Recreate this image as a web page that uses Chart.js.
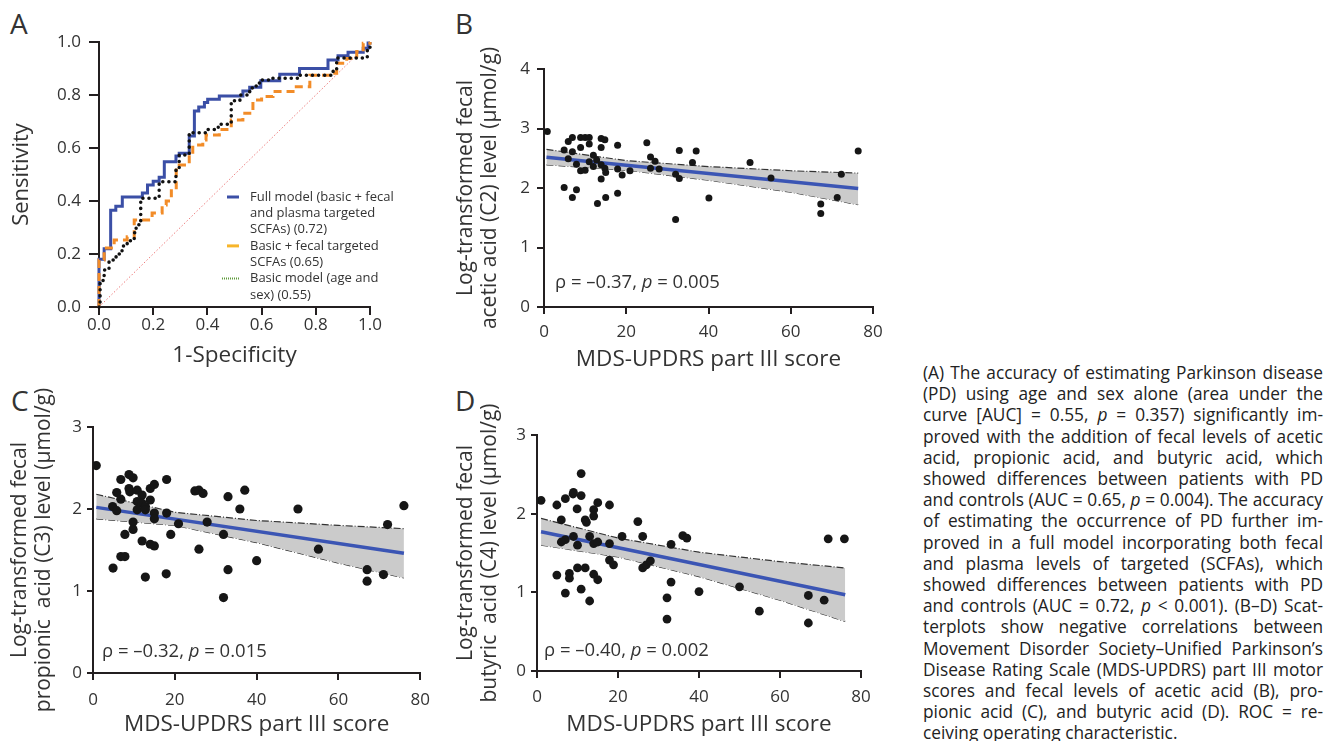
<!DOCTYPE html>
<html>
<head>
<meta charset="utf-8">
<script src="https://cdn.jsdelivr.net/npm/chart.js@4.4.0/dist/chart.umd.min.js"></script>
<style>
body { margin: 0; background: #fff; width: 1338px; height: 741px; overflow: hidden; position: relative; font-family: "Open Sans", sans-serif; color: #333; }
.panel { position: absolute; }
.letter { position: absolute; font-size: 28px; line-height: 28px; color: #333; }
#caption { position: absolute; left: 923px; top: 362px; width: 400px; font-size: 17.3px; line-height: 21.2px; color: #222; }
#caption div { text-align: justify; text-align-last: justify; }
#caption div.last { text-align-last: left; }
</style>
</head>
<body>
<div class="letter" style="left:10px;top:9px">A</div>
<div class="letter" style="left:455px;top:9px">B</div>
<div class="letter" style="left:11px;top:386px">C</div>
<div class="letter" style="left:455px;top:386px">D</div>

<canvas id="rocChart" class="panel" style="left:0;top:0" width="440" height="380"></canvas>
<canvas id="aceticChart" class="panel" style="left:440px;top:0" width="470" height="380"></canvas>
<canvas id="propionicChart" class="panel" style="left:0;top:370px" width="440" height="371"></canvas>
<canvas id="butyricChart" class="panel" style="left:440px;top:370px" width="470" height="371"></canvas>

<div id="caption"></div>

<script>
// ROC curves (panel A): false positive rate / sensitivity at each step
const fullFpr = [0, 0, 0.019, 0.043, 0.062, 0.086, 0.16, 0.179, 0.2, 0.222, 0.241, 0.284, 0.296, 0.333, 0.352, 0.368, 0.389, 0.401, 0.444, 0.531, 0.556, 0.597, 0.667, 0.74, 0.845, 0.882, 0.919, 0.975, 0.993, 1];
const fullTpr = [0, 0.18, 0.22, 0.365, 0.38, 0.415, 0.43, 0.46, 0.475, 0.49, 0.548, 0.57, 0.58, 0.645, 0.74, 0.755, 0.772, 0.784, 0.796, 0.815, 0.829, 0.854, 0.878, 0.9, 0.932, 0.948, 0.961, 0.976, 0.996, 1];
const fecalFpr = [0, 0, 0.019, 0.056, 0.104, 0.13, 0.196, 0.233, 0.248, 0.267, 0.285, 0.296, 0.333, 0.346, 0.383, 0.395, 0.444, 0.488, 0.531, 0.568, 0.6, 0.642, 0.716, 0.778, 0.864, 0.877, 0.914, 0.951, 0.975, 1];
const fecalTpr = [0, 0.177, 0.223, 0.253, 0.265, 0.328, 0.355, 0.385, 0.40, 0.45, 0.517, 0.536, 0.567, 0.611, 0.63, 0.649, 0.67, 0.706, 0.731, 0.781, 0.794, 0.813, 0.831, 0.875, 0.882, 0.92, 0.938, 0.964, 0.995, 1];
const basicFpr = [0, 0.004, 0.019, 0.037, 0.063, 0.085, 0.104, 0.13, 0.137, 0.154, 0.222, 0.284, 0.296, 0.333, 0.4, 0.44, 0.488, 0.52, 0.556, 0.58, 0.6, 0.64, 0.74, 0.864, 0.877, 0.99, 1];
const basicTpr = [0, 0.10, 0.14, 0.177, 0.2, 0.23, 0.25, 0.28, 0.31, 0.41, 0.473, 0.52, 0.574, 0.658, 0.67, 0.69, 0.778, 0.80, 0.826, 0.845, 0.857, 0.863, 0.875, 0.895, 0.94, 0.977, 1];

// panel B: acetic acid vs MDS-UPDRS III
const bScore = [0.8, 4.9, 5.9, 6.9, 5.9, 6.9, 4.9, 7.9, 6.9, 7.9, 8.9, 10.0, 11.0, 8.9, 11.0, 8.9, 10.0, 11.0, 12.0, 12.0, 12.8, 13.0, 13.9, 14.8, 13.9, 13.9, 14.8, 15.0, 13.9, 15.0, 17.9, 17.9, 19.0, 17.9, 20.9, 25.0, 25.9, 27.0, 25.9, 28.0, 32.0, 32.9, 32.9, 32.0, 36.1, 37.0, 40.1, 50.1, 55.2, 67.3, 67.3, 71.3, 72.3, 76.4];
const bAcetic = [2.95, 2.64, 2.78, 2.85, 2.49, 2.61, 2.01, 1.97, 1.84, 2.40, 2.85, 2.85, 2.85, 2.68, 2.74, 2.29, 2.30, 2.44, 2.55, 2.36, 2.47, 1.74, 2.83, 2.81, 2.68, 2.39, 2.33, 2.26, 2.15, 1.84, 2.72, 2.32, 2.22, 1.91, 2.29, 2.76, 2.52, 2.45, 2.33, 2.32, 2.23, 2.16, 2.63, 1.47, 2.43, 2.62, 1.83, 2.43, 2.17, 1.73, 1.57, 1.84, 2.23, 2.62];
const bFitX = [0.6, 76.4];
const bFitY = [2.515, 1.99];
const bBandX = [0.6, 20, 40, 60, 76.4];
const bBandUp = [2.65, 2.46, 2.36, 2.29, 2.25];
const bBandLo = [2.39, 2.30, 2.13, 1.93, 1.72];

// panel C: propionic acid
const cScore = [0.8, 4.8, 5.8, 4.9, 5.8, 6.8, 6.8, 8.8, 9.8, 8.8, 9.0, 10.8, 12.0, 14.0, 15.0, 10.8, 12.0, 10.8, 12.8, 14.0, 12.8, 15.0, 15.0, 9.8, 9.8, 7.8, 6.8, 7.8, 12.0, 14.0, 15.0, 12.8, 18.0, 18.0, 19.0, 17.9, 20.9, 24.9, 25.9, 26.9, 27.9, 25.9, 31.9, 33.0, 33.0, 31.9, 35.9, 37.1, 40.0, 50.1, 55.1, 67.0, 67.0, 71.0, 72.0, 76.0];
const cPropionic = [2.53, 2.03, 1.98, 1.28, 2.20, 2.12, 2.36, 2.42, 2.38, 2.25, 2.21, 2.23, 2.17, 2.25, 2.30, 2.09, 2.07, 1.99, 2.03, 2.11, 1.99, 1.95, 1.88, 1.84, 1.75, 1.69, 1.42, 1.42, 1.61, 1.57, 1.55, 1.17, 2.36, 1.95, 1.69, 1.21, 1.82, 2.22, 2.23, 2.19, 1.84, 1.51, 1.69, 2.15, 1.26, 0.92, 2.00, 2.23, 1.37, 2.00, 1.51, 1.26, 1.12, 1.20, 1.81, 2.04];
const cFitX = [0.8, 76];
const cFitY = [2.02, 1.46];
const cBandX = [0.8, 20, 40, 60, 76];
const cBandUp = [2.18, 1.96, 1.86, 1.80, 1.76];
const cBandLo = [1.88, 1.80, 1.59, 1.34, 1.16];

// panel D: butyric acid
const dScore = [1.0, 4.9, 7.0, 9.0, 10.9, 10.9, 9.9, 8.9, 14.0, 15.0, 17.9, 14.0, 11.9, 12.2, 6.0, 21.0, 24.9, 26.1, 9.0, 7.0, 6.0, 10.0, 13.0, 14.0, 15.0, 17.9, 17.9, 18.9, 10.0, 11.9, 8.0, 8.0, 4.9, 14.0, 15.0, 7.0, 10.9, 13.0, 26.1, 27.0, 28.0, 33.1, 36.0, 37.0, 33.1, 32.1, 32.1, 40.0, 50.0, 54.9, 67.0, 67.0, 70.9, 71.9, 75.9];
const dButyric = [2.17, 2.11, 2.19, 2.27, 2.23, 2.51, 2.06, 2.25, 2.05, 2.14, 2.11, 1.97, 1.92, 1.89, 1.92, 1.71, 1.90, 1.71, 1.71, 1.67, 1.64, 1.60, 1.71, 1.62, 1.64, 1.62, 1.41, 1.35, 1.31, 1.31, 1.24, 1.18, 1.22, 1.23, 1.16, 0.99, 1.04, 0.89, 1.31, 1.35, 1.40, 1.61, 1.72, 1.69, 1.13, 0.93, 0.66, 1.01, 1.07, 0.76, 0.96, 0.61, 0.90, 1.68, 1.68];
const dFitX = [1.0, 76.1];
const dFitY = [1.77, 0.97];
const dBandX = [1.0, 20, 40, 60, 76.1];
const dBandUp = [1.94, 1.69, 1.51, 1.39, 1.31];
const dBandLo = [1.60, 1.45, 1.20, 0.90, 0.63];

const rhoValues = ['\u20130.37', '\u20130.32', '\u20130.40'];
const pValues = ['0.005', '0.015', '0.002'];

const FONT = 'Open Sans';
const INK = '#231f20';

const captionLines = [
    '(A) The accuracy of estimating Parkinson disease',
    '(PD) using age and sex alone (area under the',
    'curve [AUC] = 0.55, <i>p</i> = 0.357) significantly im-',
    'proved with the addition of fecal levels of acetic',
    'acid, propionic acid, and butyric acid, which',
    'showed differences between patients with PD',
    'and controls (AUC = 0.65, <i>p</i> = 0.004). The accuracy',
    'of estimating the occurrence of PD further im-',
    'proved in a full model incorporating both fecal',
    'and plasma levels of targeted (SCFAs), which',
    'showed differences between patients with PD',
    'and controls (AUC = 0.72, <i>p</i> &lt; 0.001). (B\u2013D) Scat-',
    'terplots show negative correlations between',
    'Movement Disorder Society\u2013Unified Parkinson\u2019s',
    'Disease Rating Scale (MDS-UPDRS) part III motor',
    'scores and fecal levels of acetic acid (B), pro-',
    'pionic acid (C), and butyric acid (D). ROC = re-',
    'ceiving operating characteristic.'
];

function pts(xs, ys) {
    return xs.map((x, i) => ({ x: x, y: ys[i] }));
}

function makeScale(o) {
    return {
        type: 'linear',
        min: o.min,
        max: o.max,
        afterFit: s => {
            if (o.width) s.width = o.width;
            if (o.height) s.height = o.height;
        },
        border: { color: INK, width: 2 },
        grid: { drawOnChartArea: false, tickLength: o.tick, color: INK, lineWidth: 2 },
        ticks: {
            stepSize: o.step,
            padding: o.pad,
            color: '#333',
            font: { family: FONT, size: 17 },
            callback: o.fmt || (v => v)
        },
        title: {
            display: true,
            text: o.title,
            color: '#333',
            font: { family: FONT, size: o.titleSize, lineHeight: 1.15 },
            padding: o.titlePad
        }
    };
}

// ρ / p annotation in the lower left of each scatter panel
const corrLabel = {
    id: 'corrLabel',
    afterDraw(chart, args, opts) {
        const ctx = chart.ctx;
        const a = chart.chartArea;
        let x = a.left + opts.dx;
        const y = a.bottom - opts.dy;
        const parts = [['\u03c1 = ' + opts.rho + ', ', ''], ['p', 'italic '], [' = ' + opts.p, '']];
        ctx.save();
        ctx.fillStyle = '#333';
        ctx.textBaseline = 'middle';
        parts.forEach(([t, style]) => {
            ctx.font = style + '18.5px "' + FONT + '"';
            ctx.fillText(t, x, y);
            x += ctx.measureText(t).width;
        });
        ctx.restore();
    }
};

// legend of panel A, drawn inside the plot
const rocLegend = {
    id: 'rocLegend',
    afterDraw(chart) {
        const ctx = chart.ctx;
        const a = chart.chartArea;
        let y = a.top + 155;
        ctx.save();
        ctx.font = '13px "' + FONT + '"';
        ctx.fillStyle = '#333';
        ctx.textBaseline = 'middle';
        [2, 1, 0].forEach(i => {
            const ds = chart.data.datasets[i];
            ctx.beginPath();
            ctx.strokeStyle = ds.legendColor;
            ctx.lineWidth = ds.legendWidth;
            ctx.setLineDash(ds.legendDash);
            ctx.moveTo(a.left + ds.legendStart, y);
            ctx.lineTo(a.left + 140, y);
            ctx.stroke();
            ds.label.forEach(t => {
                ctx.fillText(t, a.left + 151, y);
                y += 16.3;
            });
        });
        ctx.restore();
    }
};

new Chart(document.getElementById('rocChart'), {
    type: 'line',
    data: {
        datasets: [{
            label: ['Basic model (age and', 'sex) (0.55)'],
            data: pts(basicFpr, basicTpr),
            borderColor: '#111',
            borderWidth: 3.5,
            borderDash: [0.1, 6],
            borderCapStyle: 'round',
            stepped: 'before',
            pointRadius: 0,
            clip: false,
            legendColor: '#5f9c3c', legendWidth: 2, legendDash: [1, 1], legendStart: 123
        }, {
            label: ['Basic + fecal targeted', 'SCFAs (0.65)'],
            data: pts(fecalFpr, fecalTpr),
            borderColor: '#f28c28',
            borderWidth: 3,
            borderDash: [8, 5],
            stepped: 'before',
            pointRadius: 0,
            clip: false,
            legendColor: '#f7b52a', legendWidth: 3, legendDash: [], legendStart: 128
        }, {
            label: ['Full model (basic + fecal', 'and plasma targeted', 'SCFAs) (0.72)'],
            data: pts(fullFpr, fullTpr),
            borderColor: '#3b4fa6',
            borderWidth: 3,
            stepped: 'before',
            pointRadius: 0,
            clip: false,
            legendColor: '#3b4fa6', legendWidth: 3, legendDash: [], legendStart: 128
        }, {
            label: ['reference'],
            data: [{ x: 0, y: 0 }, { x: 1, y: 1 }],
            borderColor: '#ec7b7b',
            borderWidth: 1,
            borderDash: [1.5, 2],
            pointRadius: 0
        }]
    },
    options: {
        responsive: false,
        animation: false,
        events: [],
        layout: { padding: { top: 42, right: 70, bottom: 0, left: 0 } },
        plugins: { legend: { display: false }, tooltip: { enabled: false } },
        scales: {
            x: makeScale({ min: 0, max: 1, step: 0.2, height: 73, tick: 8, pad: 0, fmt: v => v.toFixed(1),
                title: '1-Specificity', titleSize: 22.5, titlePad: { top: 0, bottom: 11 } }),
            y: makeScale({ min: 0, max: 1, step: 0.2, width: 99, tick: 10, pad: 8, fmt: v => v.toFixed(1),
                title: 'Sensitivity', titleSize: 22, titlePad: { top: 9, bottom: 0 } })
        }
    },
    plugins: [rocLegend]
});

function scatterChart(id, xs, ys, fit, band, radius, yMax, yTitle, area, label) {
    new Chart(document.getElementById(id), {
        type: 'scatter',
        data: {
            datasets: [{
                data: pts(xs, ys),
                backgroundColor: '#161616',
                borderWidth: 0,
                pointRadius: radius
            }, {
                data: pts(fit[0], fit[1]),
                showLine: true,
                borderColor: '#3b55b4',
                borderWidth: 3.5,
                pointRadius: 0
            }, {
                data: pts(band[0], band[1]),
                showLine: true,
                borderColor: '#333',
                borderWidth: 1.2,
                borderDash: [7, 2, 1, 2],
                pointRadius: 0,
                fill: '+1',
                backgroundColor: '#cbcbcb'
            }, {
                data: pts(band[0], band[2]),
                showLine: true,
                borderColor: '#333',
                borderWidth: 1.2,
                borderDash: [7, 2, 1, 2],
                pointRadius: 0
            }]
        },
        options: {
            responsive: false,
            animation: false,
            events: [],
            layout: { padding: { top: area.top, right: area.right, bottom: 0, left: 0 } },
            plugins: {
                legend: { display: false },
                tooltip: { enabled: false },
                corrLabel: label
            },
            scales: {
                x: makeScale({ min: 0, max: 80, step: 20, height: area.xh, tick: 7, pad: area.xpad,
                    title: 'MDS-UPDRS part III score', titleSize: 22.5, titlePad: { top: 0, bottom: area.xtp } }),
                y: makeScale({ min: 0, max: yMax, step: 1, width: area.yw, tick: area.ytick, pad: area.ypad,
                    title: yTitle, titleSize: 21, titlePad: { top: area.ytp, bottom: 0 } })
            }
        },
        plugins: [corrLabel]
    });
}

scatterChart('aceticChart', bScore, bAcetic, [bFitX, bFitY], [bBandX, bBandUp, bBandLo], 3.5, 4,
    ['Log-transformed fecal', 'acetic acid (C2) level (\u03bcmol/g)'],
    { top: 69, right: 37, xh: 73, yw: 104, xpad: 8, xtp: 7, ytick: 7, ypad: 7, ytp: 14 },
    { dx: 11, dy: 24, rho: rhoValues[0], p: pValues[0] });

scatterChart('propionicChart', cScore, cPropionic, [cFitX, cFitY], [cBandX, cBandUp, cBandLo], 4.6, 3,
    ['Log-transformed fecal', 'propionic  acid (C3) level (\u03bcmol/g)'],
    { top: 57, right: 11, xh: 68, yw: 93, xpad: 10, xtp: 3, ytick: 6, ypad: 5, ytp: 8 },
    { dx: 9, dy: 21, rho: rhoValues[1], p: pValues[1] });

scatterChart('butyricChart', dScore, dButyric, [dFitX, dFitY], [dBandX, dBandUp, dBandLo], 4.4, 3,
    ['Log-transformed fecal', 'butyric  acid (C4) level (\u03bcmol/g)'],
    { top: 65, right: 49, xh: 70, yw: 97, xpad: 9, xtp: 3, ytick: 6, ypad: 5, ytp: 14 },
    { dx: 7, dy: 20, rho: rhoValues[2], p: pValues[2] });

// caption, one justified line per row; squeeze letters if a row wraps
const caption = document.getElementById('caption');
captionLines.forEach((t, i) => {
    const d = document.createElement('div');
    d.innerHTML = t;
    if (i === captionLines.length - 1) d.className = 'last';
    caption.appendChild(d);
    let ls = 0;
    while (d.offsetHeight > 30 && ls > -2) {
        ls -= 0.05;
        d.style.letterSpacing = ls + 'px';
    }
});
</script>
</body>
</html>
